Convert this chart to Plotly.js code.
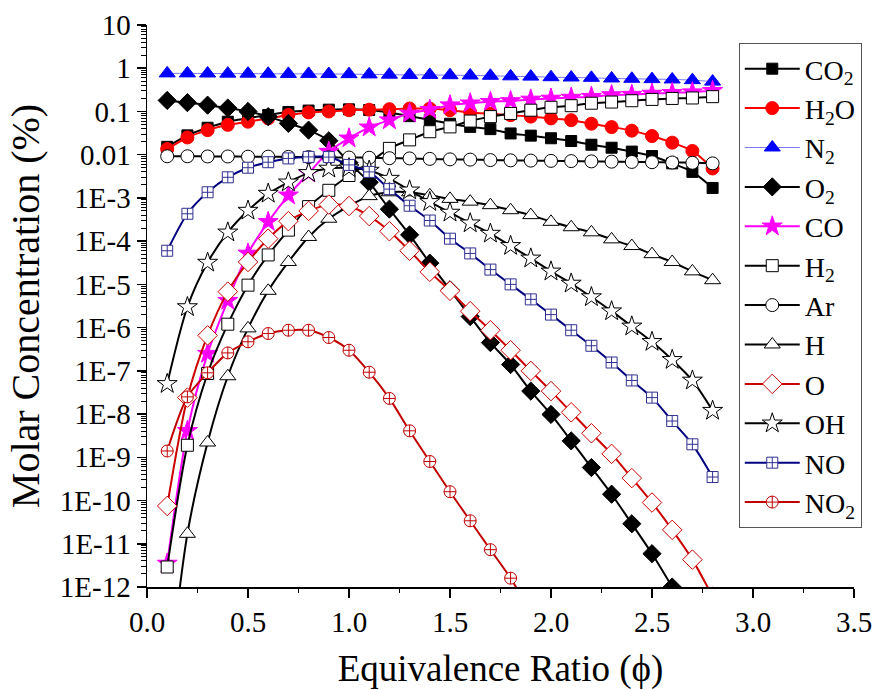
<!DOCTYPE html>
<html>
<head>
<meta charset="utf-8">
<script src="https://cdn.plot.ly/plotly-3.0.1.min.js"></script>
<style>
html,body{margin:0;padding:0;background:#fff;}
#chart{width:877px;height:690px;}
#chart text{font-family:"Liberation Serif","Times New Roman",serif !important;}
</style>
</head>
<body>
<div id="chart"></div>
<script>
// Equivalence ratio (phi)
const phi = [0.1,0.2,0.3,0.4,0.5,0.6,0.7,0.8,0.9,1.0,1.1,1.2,1.3,1.4,1.5,1.6,1.7,1.8,1.9,2.0,2.1,2.2,2.3,2.4,2.5,2.6,2.7,2.8];

// Molar concentrations (%)
const CO2 = [0.0152,0.028,0.042,0.058,0.07,0.083,0.097,0.105,0.11,0.112,0.108,0.095,0.078,0.064,0.052,0.044,0.039,0.031,0.0276,0.024,0.0207,0.017,0.0145,0.0118,0.0093,0.0063,0.004,0.0017];
const H2O = [0.0135,0.025,0.037,0.049,0.058,0.069,0.083,0.095,0.1,0.107,0.11,0.113,0.117,0.117,0.107,0.095,0.088,0.082,0.076,0.069,0.063,0.052,0.0435,0.036,0.027,0.019,0.0122,0.0048];
const N2  = [0.76,0.76,0.755,0.75,0.75,0.745,0.74,0.74,0.735,0.73,0.72,0.71,0.70,0.70,0.69,0.68,0.67,0.65,0.64,0.62,0.61,0.60,0.58,0.57,0.56,0.55,0.53,0.49];
const O2  = [0.18,0.16,0.14,0.12,0.1,0.076,0.053,0.037,0.021,0.0065,0.0023,5.5e-4,1.4e-4,3.1e-5,7.5e-6,1.8e-6,4.5e-7,1.4e-7,3.4e-8,9.8e-9,2.4e-9,5.8e-10,1.4e-10,2.9e-11,5.9e-12,1.0e-12,1.5e-13,2e-14];
const CO  = [3.5e-12,4.1e-9,2.5e-7,4.2e-6,5.2e-5,2.8e-4,1.15e-3,3.7e-3,0.0118,0.024,0.043,0.063,0.09,0.11,0.14,0.155,0.168,0.175,0.19,0.2,0.21,0.22,0.24,0.245,0.26,0.27,0.28,0.3];
const H2  = [2.9e-12,1.9e-9,8.7e-8,1.2e-6,9.6e-6,4.8e-5,1.8e-4,6.3e-4,1.5e-3,3.3e-3,6.5e-3,0.014,0.022,0.034,0.044,0.06,0.076,0.09,0.107,0.125,0.136,0.155,0.165,0.177,0.19,0.2,0.205,0.22];
const Ar  = [0.0092,0.0092,0.0091,0.0091,0.009,0.009,0.0089,0.0088,0.0087,0.0086,0.0085,0.0083,0.0082,0.008,0.0078,0.0077,0.0075,0.0074,0.0073,0.0072,0.0071,0.007,0.0069,0.0068,0.0067,0.0066,0.0065,0.0063];
const H   = [3e-15,1.7e-11,2.2e-9,7.5e-8,9.6e-7,7.1e-6,3.3e-5,1.25e-4,3.3e-4,6.5e-4,1.1e-3,1.35e-3,1.35e-3,1.15e-3,9.5e-4,8.2e-4,6.8e-4,5.2e-4,4e-4,2.8e-4,2.1e-4,1.6e-4,1.1e-4,7.7e-5,5e-5,3.3e-5,2e-5,1.25e-5];
const O   = [7.5e-11,2.4e-8,6.6e-7,6.8e-6,3.3e-5,1.14e-4,2.9e-4,5e-4,7e-4,6.5e-4,3.8e-4,1.7e-4,6e-5,1.95e-5,7.1e-6,2.4e-6,8.7e-7,3e-7,1e-7,3.4e-8,1.1e-8,3.6e-9,1.2e-9,3.3e-10,9e-11,2.1e-11,4.3e-12,6e-13];
const OH  = [5e-8,3e-6,3.2e-5,1.6e-4,5.1e-4,1.26e-3,2.3e-3,3.8e-3,4.8e-3,4.9e-3,4.3e-3,2.8e-3,1.5e-3,8.1e-4,4.6e-4,2.6e-4,1.5e-4,7.8e-5,4e-5,2e-5,1.05e-5,5.1e-6,2.4e-6,1.07e-6,4.7e-7,1.8e-7,6e-8,1.2e-8];
const NO  = [6e-5,4.3e-4,1.35e-3,3e-3,5e-3,6.7e-3,8.2e-3,8.9e-3,8.8e-3,5.8e-3,4e-3,1.6e-3,6.6e-4,3e-4,1.14e-4,5.2e-5,2.2e-5,1e-5,4.5e-6,2e-6,8.7e-7,3.8e-7,1.56e-7,6e-8,2.4e-8,6.9e-9,2e-9,3.5e-10];
const NO2 = [1.4e-9,2.5e-8,9e-8,2.6e-7,4.7e-7,7.3e-7,8.7e-7,8.7e-7,5.9e-7,3e-7,9.3e-8,2.3e-8,4.1e-9,8e-10,1.6e-10,3.4e-11,7.3e-12,1.6e-12,2.5e-13,null,null,null,null,null,null,null,null,null];

// Axis tick labels
const yTickVals = [10,1,0.1,0.01,1e-3,1e-4,1e-5,1e-6,1e-7,1e-8,1e-9,1e-10,1e-11,1e-12];
const yTickText = ['10','1','0.1','0.01','1E-3','1E-4','1E-5','1E-6','1E-7','1E-8','1E-9','1E-10','1E-11','1E-12'];
const xTickVals = [0,0.5,1,1.5,2,2.5,3,3.5];
const xTickText = ['0.0','0.5','1.0','1.5','2.0','2.5','3.0','3.5'];
const xMinorVals = [0.25,0.75,1.25,1.75,2.25,2.75,3.25];
const yMinorMultipliers = [2,3,4,5,6,7,8,9];

// minor log tick positions (2..9 x each decade)
const yMinorVals = [];
for (let e = -12; e < 1; e++) {
  for (const m of yMinorMultipliers) yMinorVals.push(m * Math.pow(10, e));
}

const SERIF = 'Liberation Serif';

function tr(name, y, lineColor, symbol, fill, edge, size, lw) {
  return {
    x: phi, y: y, name: name, type: 'scatter', mode: 'lines+markers',
    line: {color: lineColor, width: lw || 2, shape: 'spline', smoothing: 0.8},
    marker: {symbol: symbol, color: fill, size: size, line: {color: edge, width: 1}},
    connectgaps: false
  };
}

const traces = [
  tr('CO<sub>2</sub>', CO2, '#000000', 'square', '#000000', '#000000', 11),
  tr('H<sub>2</sub>O', H2O, '#ff0000', 'circle', '#ff0000', '#ff0000', 13),
  tr('N<sub>2</sub>', N2, '#7878f0', 'triangle-up', '#0000ff', '#0000ff', 14, 1),
  tr('O<sub>2</sub>', O2, '#000000', 'diamond', '#000000', '#000000', 14),
  tr('CO', CO, '#ff00ff', 'star', '#ff00ff', '#ff00ff', 15),
  tr('H<sub>2</sub>', H2, '#000000', 'square', '#ffffff', '#000000', 12),
  tr('Ar', Ar, '#000000', 'circle', '#ffffff', '#000000', 13),
  tr('H', H, '#000000', 'triangle-up', '#ffffff', '#000000', 14),
  tr('O', O, '#cc0000', 'diamond', '#ffffff', '#cc0000', 15),
  tr('OH', OH, '#000000', 'star', '#ffffff', '#000000', 15),
  tr('NO', NO, '#000080', 'square-cross', '#ffffff', '#303090', 11),
  tr('NO<sub>2</sub>', NO2, '#c00000', 'circle-cross', '#ffffff', '#c00000', 12),
  // empty helper trace so the minor-tick overlay axes are drawn
  {x: [], y: [], xaxis: 'x2', yaxis: 'y2', type: 'scatter', mode: 'lines', showlegend: false, hoverinfo: 'skip'}
];

const layout = {
  width: 877, height: 690,
  margin: {l: 147, r: 23, t: 25, b: 103},
  paper_bgcolor: '#ffffff', plot_bgcolor: 'rgba(0,0,0,0)',
  font: {family: SERIF, color: '#000000', size: 28},
  showlegend: true,
  legend: {
    x: 0.837, y: 0.968, xanchor: 'left', yanchor: 'top',
    bgcolor: '#ffffff', bordercolor: '#555555', borderwidth: 1,
    font: {family: SERIF, size: 28, color: '#000000'},
    itemwidth: 55, tracegroupgap: 0
  },
  xaxis: {
    range: [0, 3.5], showgrid: false, zeroline: false,
    showline: true, linecolor: '#000000', linewidth: 1.5,
    ticks: 'outside', ticklen: 9, tickwidth: 1.5, tickcolor: '#000000',
    tickmode: 'array', tickvals: xTickVals, ticktext: xTickText,
    tickfont: {family: SERIF, size: 29, color: '#000000'},
    title: {text: 'Equivalence Ratio (ϕ)', font: {family: SERIF, size: 37, color: '#000000'}, standoff: 22}
  },
  yaxis: {
    type: 'log', range: [-12, 1], showgrid: false, zeroline: false,
    showline: true, linecolor: '#000000', linewidth: 1.5,
    ticks: 'outside', ticklen: 9, tickwidth: 1.5, tickcolor: '#000000',
    tickmode: 'array', tickvals: yTickVals, ticktext: yTickText,
    tickfont: {family: SERIF, size: 29, color: '#000000'},
    title: {text: 'Molar Concentration (%)', font: {family: SERIF, size: 40, color: '#000000'}, standoff: 8}
  },
  xaxis2: {
    range: [0, 3.5], overlaying: 'x', side: 'bottom', anchor: 'y2',
    showgrid: false, zeroline: false, showline: false, showticklabels: false,
    ticks: 'outside', ticklen: 5, tickwidth: 1, tickcolor: '#000000',
    tickmode: 'array', tickvals: xMinorVals
  },
  yaxis2: {
    type: 'log', range: [-12, 1], overlaying: 'y', side: 'left', anchor: 'x2',
    showgrid: false, zeroline: false, showline: false, showticklabels: false,
    ticks: 'outside', ticklen: 5, tickwidth: 1, tickcolor: '#000000',
    tickmode: 'array', tickvals: yMinorVals
  }
};

Plotly.newPlot('chart', traces, layout, {displayModeBar: false, staticPlot: true});
</script>
</body>
</html>
